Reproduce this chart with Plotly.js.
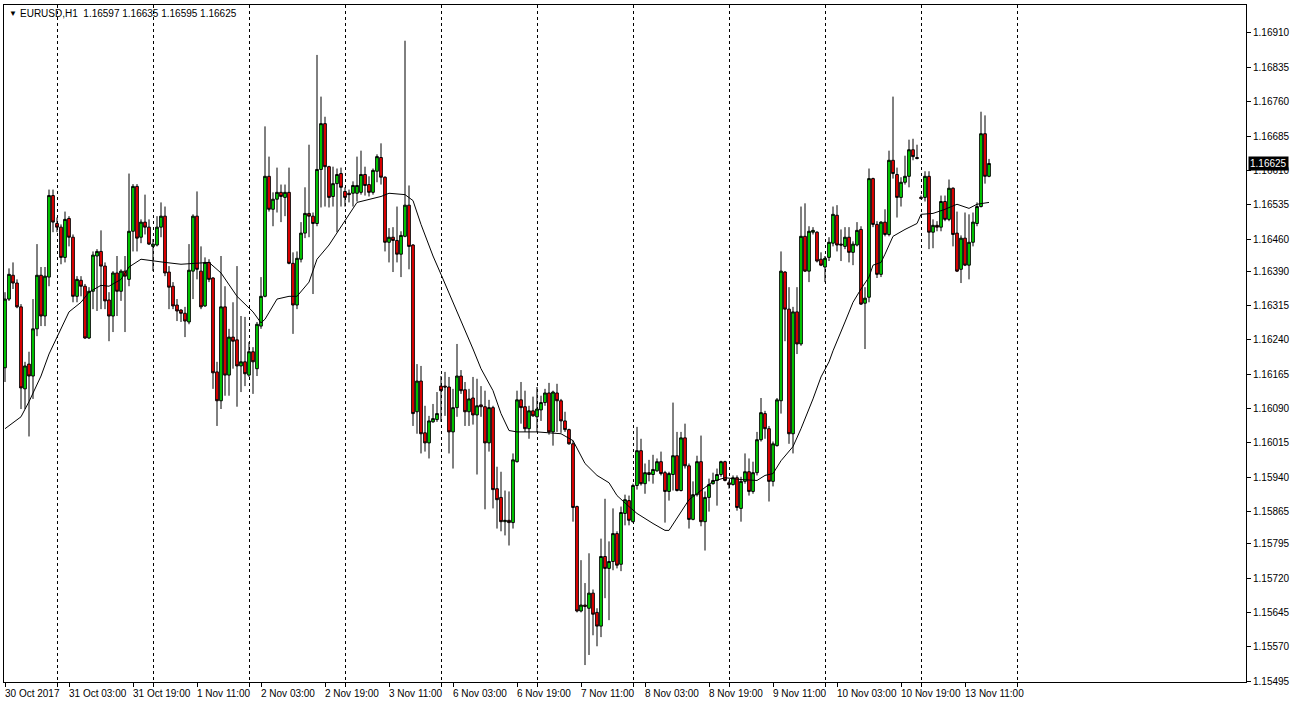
<!DOCTYPE html>
<html>
<head>
<meta charset="utf-8">
<script src="https://cdn.plot.ly/plotly-3.0.1.min.js"></script>
<style>
html,body{margin:0;padding:0;background:#fff;}
#chart{width:1292px;height:708px;}
</style>
</head>
<body>
<div id="chart"></div>
<script>
// EURUSD H1, one bar per hour, first bar 30 Oct 2017 11:00
const openP = [
1.16179,1.16329,1.16381,1.16364,1.16312,1.16133,1.16187,1.16161,1.16264,1.16381,
1.16292,1.16377,1.16555,1.16494,1.16486,1.16420,1.16505,1.16464,1.16335,1.16370,
1.16357,1.16244,1.16346,1.16423,1.16433,1.16401,1.16327,1.16292,1.16386,1.16346,
1.16390,1.16372,1.16477,1.16575,1.16464,1.16497,1.16486,1.16444,1.16447,1.16486,
1.16510,1.16388,1.16357,1.16316,1.16305,1.16298,1.16279,1.16390,1.16510,1.16390,
1.16314,1.16409,1.16375,1.16170,1.16107,1.16312,1.16163,1.16246,1.16240,1.16183,
1.16192,1.16163,1.16214,1.16177,1.16270,1.16335,1.16597,1.16525,1.16547,1.16562,
1.16551,1.16562,1.16407,1.16316,1.16416,1.16473,1.16516,1.16510,1.16494,1.16612,
1.16712,1.16618,1.16553,1.16581,1.16603,1.16564,1.16560,1.16560,1.16560,1.16562,
1.16601,1.16579,1.16562,1.16608,1.16638,1.16595,1.16453,1.16464,1.16457,1.16427,
1.16466,1.16534,1.16447,1.16083,1.16150,1.16037,1.16015,1.16061,1.16066,1.16139,
1.16139,1.16137,1.16039,1.16092,1.16161,1.16131,1.16083,1.16113,1.16076,1.16098,
1.16094,1.16015,1.16092,1.15915,1.15896,1.15843,1.15846,1.15841,1.15974,1.16109,
1.16094,1.16046,1.16085,1.16072,1.16087,1.16103,1.16124,1.16039,1.16124,1.16107,
1.16063,1.16044,1.16013,1.15876,1.15648,1.15661,1.15654,1.15687,1.15645,1.15615,
1.15767,1.15741,1.15756,1.15817,1.15750,1.15861,1.15889,1.15843,1.15922,1.15998,
1.15926,1.15950,1.15946,1.15954,1.15974,1.15950,1.15909,1.15946,1.15987,1.15911,
1.16026,1.15965,1.15848,1.15902,1.15974,1.15843,1.15896,1.15926,1.15933,1.15946,
1.15974,1.15928,1.15924,1.15939,1.15872,1.15931,1.15952,1.15909,1.15950,1.16022,
1.16079,1.16046,1.15931,1.16009,1.16107,1.16388,1.16307,1.16035,1.16301,1.16231,
1.16466,1.16390,1.16475,1.16475,1.16416,1.16399,1.16420,1.16451,1.16512,1.16449,
1.16444,1.16464,1.16431,1.16447,1.16481,1.16320,1.16333,1.16592,1.16492,1.16383,
1.16497,1.16470,1.16632,1.16601,1.16551,1.16584,1.16597,1.16655,1.16638,1.16551,
1.16551,1.16597,1.16475,1.16490,1.16486,1.16542,1.16503,1.16571,1.16473,1.16394,
1.16462,1.16403,1.16453,1.16494,1.16531,1.16690,1.16597
];
const highP = [
1.16344,1.16396,1.16409,1.16372,1.16318,1.16192,1.16214,1.16329,1.16449,1.16399,
1.16399,1.16568,1.16568,1.16507,1.16492,1.16520,1.16510,1.16470,1.16379,1.16379,
1.16362,1.16355,1.16433,1.16438,1.16479,1.16409,1.16344,1.16390,1.16423,1.16394,
1.16423,1.16603,1.16580,1.16580,1.16503,1.16557,1.16503,1.16460,1.16510,1.16540,
1.16531,1.16401,1.16366,1.16329,1.16307,1.16312,1.16449,1.16514,1.16564,1.16444,
1.16420,1.16416,1.16377,1.16192,1.16423,1.16357,1.16264,1.16322,1.16401,1.16292,
1.16290,1.16235,1.16224,1.16279,1.16377,1.16706,1.16640,1.16562,1.16616,1.16579,
1.16579,1.16616,1.16431,1.16433,1.16497,1.16573,1.16666,1.16518,1.16862,1.16771,
1.16727,1.16620,1.16618,1.16614,1.16616,1.16573,1.16568,1.16586,1.16640,1.16653,
1.16618,1.16597,1.16614,1.16645,1.16669,1.16597,1.16484,1.16486,1.16531,1.16477,
1.16893,1.16577,1.16449,1.16187,1.16183,1.16096,1.16074,1.16100,1.16126,1.16161,
1.16170,1.16159,1.16133,1.16231,1.16174,1.16148,1.16133,1.16159,1.16155,1.16139,
1.16129,1.16109,1.16096,1.15963,1.15952,1.15911,1.15909,1.15992,1.16129,1.16148,
1.16129,1.16096,1.16116,1.16137,1.16118,1.16133,1.16146,1.16129,1.16144,1.16111,
1.16083,1.16046,1.16020,1.15878,1.15759,1.15709,1.15774,1.15695,1.15654,1.15806,
1.15893,1.15800,1.15872,1.15822,1.15876,1.15902,1.15900,1.15926,1.16050,1.16024,
1.15970,1.15978,1.15989,1.15981,1.15996,1.15954,1.15952,1.16103,1.16039,1.16039,
1.16057,1.15970,1.15931,1.15987,1.16031,1.15909,1.15937,1.15950,1.15959,1.15976,
1.15976,1.15933,1.15944,1.15944,1.15941,1.15992,1.15981,1.15974,1.16039,1.16113,
1.16085,1.16052,1.16018,1.16113,1.16433,1.16390,1.16355,1.16312,1.16355,1.16531,
1.16538,1.16488,1.16486,1.16477,1.16431,1.16423,1.16464,1.16531,1.16534,1.16481,
1.16486,1.16486,1.16455,1.16497,1.16488,1.16355,1.16614,1.16594,1.16499,1.16499,
1.16525,1.16653,1.16771,1.16616,1.16595,1.16642,1.16677,1.16679,1.16666,1.16555,
1.16608,1.16608,1.16503,1.16499,1.16555,1.16555,1.16590,1.16573,1.16520,1.16468,
1.16518,1.16514,1.16518,1.16540,1.16738,1.16730,1.16635
];
const lowP = [
1.16148,1.16325,1.16351,1.16309,1.16089,1.16089,1.16029,1.16111,1.16248,1.16270,
1.16270,1.16357,1.16475,1.16475,1.16405,1.16409,1.16444,1.16322,1.16322,1.16335,
1.16242,1.16242,1.16307,1.16303,1.16307,1.16307,1.16237,1.16257,1.16292,1.16325,
1.16257,1.16357,1.16433,1.16433,1.16451,1.16470,1.16447,1.16390,1.16444,1.16464,
1.16379,1.16307,1.16307,1.16281,1.16279,1.16246,1.16274,1.16329,1.16372,1.16307,
1.16312,1.16366,1.16133,1.16052,1.16089,1.16118,1.16118,1.16177,1.16094,1.16126,
1.16139,1.16159,1.16122,1.16161,1.16264,1.16333,1.16520,1.16488,1.16518,1.16497,
1.16510,1.16405,1.16253,1.16307,1.16409,1.16462,1.16464,1.16340,1.16488,1.16529,
1.16531,1.16529,1.16531,1.16475,1.16531,1.16531,1.16540,1.16531,1.16542,1.16557,
1.16555,1.16553,1.16557,1.16584,1.16579,1.16433,1.16409,1.16388,1.16409,1.16377,
1.16464,1.16394,1.16052,1.16035,1.15992,1.15996,1.15981,1.16059,1.16061,1.16061,
1.16074,1.15992,1.15959,1.16072,1.16122,1.16052,1.16052,1.16055,1.15946,1.16072,
1.15870,1.15996,1.15872,1.15828,1.15822,1.15813,1.15791,1.15828,1.15972,1.16057,
1.16039,1.16024,1.16072,1.16039,1.16063,1.16096,1.16033,1.16009,1.16039,1.16037,
1.16039,1.16011,1.15843,1.15645,1.15645,1.15530,1.15552,1.15595,1.15571,1.15591,
1.15676,1.15628,1.15737,1.15741,1.15735,1.15835,1.15835,1.15841,1.15913,1.15922,
1.15904,1.15931,1.15926,1.15952,1.15944,1.15841,1.15889,1.15911,1.15909,1.15909,
1.15959,1.15828,1.15846,1.15898,1.15833,1.15780,1.15865,1.15924,1.15878,1.15941,
1.15931,1.15915,1.15922,1.15867,1.15843,1.15926,1.15900,1.15904,1.15944,1.16018,
1.16024,1.15887,1.15920,1.16007,1.16079,1.16237,1.16013,1.15992,1.16209,1.16227,
1.16388,1.16366,1.16470,1.16409,1.16401,1.16366,1.16412,1.16444,1.16433,1.16412,
1.16438,1.16409,1.16403,1.16444,1.16316,1.16220,1.16322,1.16486,1.16375,1.16377,
1.16466,1.16466,1.16592,1.16507,1.16531,1.16579,1.16573,1.16632,1.16634,1.16547,
1.16542,1.16438,1.16440,1.16477,1.16477,1.16499,1.16499,1.16444,1.16388,1.16364,
1.16401,1.16372,1.16444,1.16488,1.16529,1.16581,1.16595
];
const closeP = [
1.16329,1.16383,1.16364,1.16312,1.16135,1.16183,1.16161,1.16264,1.16381,1.16292,
1.16379,1.16555,1.16497,1.16486,1.16420,1.16503,1.16464,1.16335,1.16372,1.16357,
1.16244,1.16346,1.16425,1.16433,1.16401,1.16325,1.16292,1.16386,1.16346,1.16390,
1.16379,1.16477,1.16575,1.16462,1.16497,1.16486,1.16449,1.16449,1.16486,1.16510,
1.16386,1.16355,1.16314,1.16303,1.16298,1.16281,1.16392,1.16510,1.16394,1.16312,
1.16409,1.16372,1.16168,1.16107,1.16312,1.16163,1.16246,1.16237,1.16183,1.16192,
1.16166,1.16214,1.16192,1.16274,1.16335,1.16597,1.16525,1.16547,1.16562,1.16553,
1.16562,1.16407,1.16316,1.16418,1.16473,1.16516,1.16510,1.16494,1.16612,1.16712,
1.16618,1.16551,1.16581,1.16601,1.16573,1.16551,1.16557,1.16577,1.16577,1.16601,
1.16577,1.16562,1.16610,1.16640,1.16595,1.16453,1.16464,1.16457,1.16427,1.16468,
1.16534,1.16444,1.16079,1.16150,1.16035,1.16015,1.16063,1.16068,1.16079,1.16129,
1.16137,1.16039,1.16092,1.16161,1.16129,1.16083,1.16111,1.16076,1.16096,1.16094,
1.16015,1.16092,1.15913,1.15891,1.15843,1.15846,1.15841,1.15978,1.16109,1.16092,
1.16046,1.16085,1.16074,1.16089,1.16103,1.16124,1.16039,1.16126,1.16107,1.16063,
1.16044,1.16013,1.15874,1.15648,1.15661,1.15658,1.15687,1.15641,1.15615,1.15767,
1.15741,1.15756,1.15817,1.15748,1.15863,1.15891,1.15846,1.15922,1.15998,1.15926,
1.15950,1.15946,1.15957,1.15974,1.15948,1.15909,1.15948,1.15987,1.15911,1.16026,
1.15965,1.15848,1.15902,1.15974,1.15843,1.15896,1.15924,1.15933,1.15946,1.15974,
1.15933,1.15924,1.15939,1.15874,1.15931,1.15952,1.15909,1.15950,1.16022,1.16081,
1.16046,1.15931,1.16013,1.16109,1.16390,1.16307,1.16035,1.16301,1.16231,1.16466,
1.16390,1.16477,1.16479,1.16412,1.16403,1.16418,1.16453,1.16514,1.16447,1.16447,
1.16464,1.16431,1.16449,1.16479,1.16318,1.16331,1.16592,1.16492,1.16383,1.16497,
1.16470,1.16632,1.16603,1.16551,1.16584,1.16597,1.16655,1.16640,1.16636,1.16549,
1.16597,1.16475,1.16490,1.16486,1.16542,1.16503,1.16571,1.16470,1.16390,1.16462,
1.16403,1.16453,1.16497,1.16531,1.16690,1.16597,1.16625
];

// moving average line, read at selected bars
const maBar = [0,4,6,9,11,13,16,19,21,24,26,29,31,34,37,40,44,51,54,58,62,64,65,68,71,73,76,78,81,85,88,94,96,100,102,104,107,109,112,114,117,119,122,124,126,128,133,139,142,145,148,151,153,156,158,162,165,166,169,171,174,177,180,184,188,190,192,194,197,199,202,204,206,207,210,212,214,216,217,219,220,222,225,228,229,232,235,238,241,243,246];
const maVal = [1.16046,1.16072,1.16105,1.16161,1.16209,1.16246,1.16301,1.16322,1.16344,1.16359,1.16357,1.16372,1.16399,1.16416,1.16412,1.16409,1.16405,1.16409,1.16386,1.16335,1.16301,1.16277,1.16285,1.16329,1.16335,1.16335,1.16366,1.16416,1.16447,1.16499,1.16540,1.16553,1.16560,1.16557,1.16544,1.16492,1.16423,1.16383,1.16322,1.16285,1.16220,1.16177,1.16129,1.16079,1.16042,1.16039,1.16039,1.16035,1.16020,1.15970,1.15944,1.15928,1.15900,1.15876,1.15861,1.15839,1.15824,1.15824,1.15863,1.15891,1.15911,1.15931,1.15939,1.15935,1.15933,1.15944,1.15948,1.15976,1.16007,1.16046,1.16111,1.16159,1.16192,1.16216,1.16279,1.16322,1.16351,1.16377,1.16403,1.16409,1.16427,1.16466,1.16481,1.16494,1.16514,1.16516,1.16525,1.16536,1.16527,1.16536,1.16540];

// time axis labels (every 16 bars) and day separators
const timeLabelBar = [0,16,32,48,64,80,96,112,128,144,160,176,192,208,224,240];
const timeLabels = ["30 Oct 2017","31 Oct 03:00","31 Oct 19:00","1 Nov 11:00","2 Nov 03:00","2 Nov 19:00","3 Nov 11:00","6 Nov 03:00","6 Nov 19:00","7 Nov 11:00","8 Nov 03:00","8 Nov 19:00","9 Nov 11:00","10 Nov 03:00","10 Nov 19:00","13 Nov 11:00"];
const daySepBar = [13,37,61,85,109,133,157,181,205,229,253];

const priceTicks = [1.16910,1.16835,1.16760,1.16685,1.16610,1.16535,1.16460,1.16390,1.16315,1.16240,1.16165,1.16090,1.16015,1.15940,1.15865,1.15795,1.15720,1.15645,1.15570,1.15495];
const symbolTitle = "EURUSD,H1";
const lastBar = {o:1.16597, h:1.16635, l:1.16595, c:1.16625};

const barX = openP.map((_, i) => i);
const FONT = "Liberation Sans, Arial, sans-serif";

const traces = [
  {
    type: 'candlestick',
    x: barX, open: openP, high: highP, low: lowP, close: closeP,
    whiskerwidth: 0,
    increasing: {line: {color: '#000000', width: 1}, fillcolor: '#00e600'},
    decreasing: {line: {color: '#000000', width: 1}, fillcolor: '#ff0000'},
    hoverinfo: 'skip',
    showlegend: false
  },
  {
    type: 'scatter', mode: 'lines',
    x: maBar, y: maVal,
    line: {color: '#000000', width: 1},
    hoverinfo: 'skip',
    showlegend: false
  }
];

const annotations = timeLabels.map((t, k) => ({
  text: t, x: timeLabelBar[k], xref: 'x', y: 0, yref: 'paper',
  xanchor: 'left', yanchor: 'top', xshift: -2, yshift: -4,
  showarrow: false, font: {family: FONT, size: 10, color: '#000'}
}));
annotations.push({
  text: '\u25BC', x: 0, xref: 'paper', y: 1, yref: 'paper',
  xanchor: 'left', yanchor: 'top', xshift: 3, yshift: -2,
  showarrow: false, font: {family: FONT, size: 8, color: '#000'}
});
annotations.push({
  text: symbolTitle + '  ' + [lastBar.o, lastBar.h, lastBar.l, lastBar.c].map(v => v.toFixed(5)).join(' '),
  x: 0, xref: 'paper', y: 1, yref: 'paper',
  xanchor: 'left', yanchor: 'top', xshift: 14, yshift: -1,
  showarrow: false, font: {family: FONT, size: 10, color: '#000'}
});
annotations.push({
  text: lastBar.c.toFixed(5), x: 1, xref: 'paper', y: lastBar.c, yref: 'y',
  xanchor: 'left', yanchor: 'middle', xshift: 2,
  showarrow: false, bgcolor: '#000000', borderpad: 1,
  font: {family: FONT, size: 10, color: '#ffffff'}
});

const layout = {
  width: 1292, height: 708,
  margin: {l: 4, r: 46, t: 5, b: 26},
  paper_bgcolor: '#ffffff', plot_bgcolor: '#ffffff',
  showlegend: false, hovermode: false,
  boxgap: 0.05,
  xaxis: {
    range: [-0.25, 310.25],
    rangeslider: {visible: false},
    tickmode: 'array', tickvals: daySepBar, ticktext: daySepBar.map(() => ''),
    showticklabels: false,
    ticks: 'outside', ticklen: 4, tickcolor: '#000',
    showgrid: true, gridcolor: '#000000', gridwidth: 1, griddash: '3px,3px',
    zeroline: false,
    showline: true, linecolor: '#000', linewidth: 1, mirror: true,
    fixedrange: true
  },
  xaxis2: {
    overlaying: 'x', matches: 'x', anchor: 'y', side: 'bottom',
    range: [-0.25, 310.25],
    tickmode: 'array', tickvals: timeLabelBar, ticktext: timeLabelBar.map(() => ''),
    showticklabels: false,
    ticks: 'outside', ticklen: 4, tickcolor: '#000',
    showgrid: false, zeroline: false, showline: false,
    fixedrange: true
  },
  yaxis: {
    side: 'right',
    range: [1.15493, 1.16971],
    tickmode: 'array', tickvals: priceTicks, ticktext: priceTicks.map(v => v.toFixed(5)),
    ticks: 'outside', ticklen: 4, tickcolor: '#000',
    tickfont: {family: FONT, size: 10, color: '#000'},
    showgrid: false, zeroline: false,
    showline: true, linecolor: '#000', linewidth: 1, mirror: true,
    fixedrange: true
  },
  annotations: annotations
};

// invisible trace so xaxis2 is drawn
traces.push({type: 'scatter', mode: 'markers', x: [0], y: [1.16], xaxis: 'x2', yaxis: 'y',
  marker: {opacity: 0}, hoverinfo: 'skip', showlegend: false});

Plotly.newPlot('chart', traces, layout, {displayModeBar: false, staticPlot: true});
</script>
</body>
</html>
